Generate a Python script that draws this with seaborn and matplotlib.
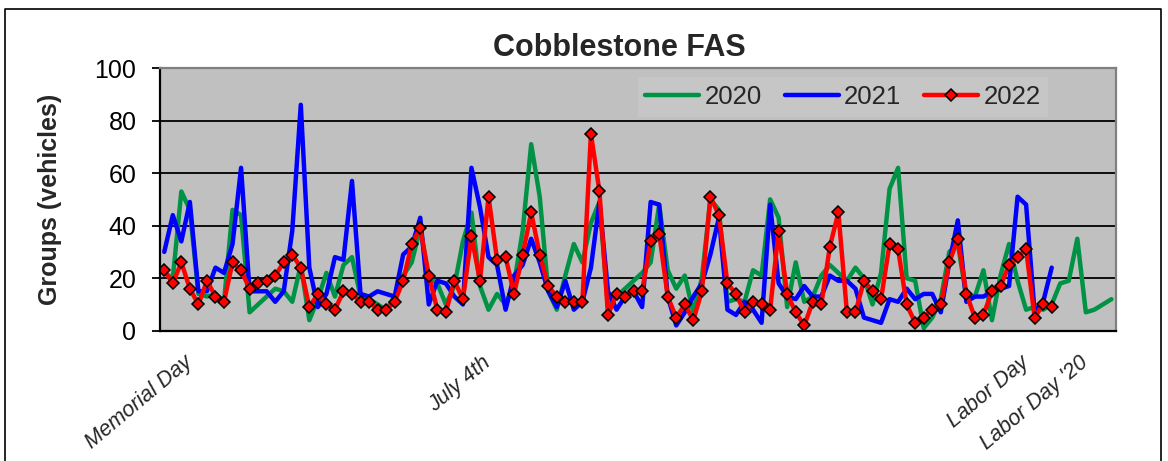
import pandas as pd
import matplotlib
matplotlib.use("Agg")
import matplotlib.pyplot as plt
import seaborn as sns
from matplotlib.lines import Line2D

# daily groups counted, aligned on day after Memorial Day of each year
y2020 = [22, 20, 53, 46, 14, 13, 14, 11, 46, 44, 7, 10, 13, 16, 15, 11, 25, 4, 12, 22,
         13, 25, 28, 13, 12, 10, 8, 13, 21, 26, 39, 20, 18, 10, 17, 34, 45, 17, 8, 14,
         10, 18, 38, 71, 51, 15, 8, 21, 33, 26, 41, 49, 9, 13, 16, 19, 22, 26, 48, 23,
         16, 21, 7, 20, 50, 46, 11, 12, 11, 23, 21, 50, 43, 9, 26, 11, 13, 21, 25, 22,
         19, 24, 20, 10, 22, 54, 62, 20, 19, 1, 5, 12, 30, 33, 13, 13, 23, 4, 21, 33,
         19, 8, 9, 8, 10, 18, 19, 35, 7, 8, 10, 12]
y2021 = [30, 44, 34, 49, 15, 15, 24, 22, 33, 62, 15, 15, 15, 11, 15, 38, 86, 24, 9, 14,
         28, 27, 57, 14, 13, 15, 14, 13, 29, 32, 43, 10, 19, 18, 13, 10, 62, 47, 28, 25,
         8, 21, 25, 35, 26, 15, 9, 19, 8, 11, 24, 49, 15, 8, 13, 15, 9, 49, 48, 13,
         2, 7, 13, 18, 29, 43, 8, 6, 11, 8, 3, 48, 18, 13, 12, 17, 13, 13, 21, 19,
         19, 16, 5, 4, 3, 12, 11, 16, 12, 14, 14, 7, 26, 42, 11, 13, 13, 15, 16, 17,
         51, 48, 7, 11, 24]
y2022 = [23, 18, 26, 16, 10, 19, 13, 11, 26, 23, 16, 18, 19, 21, 26, 29, 24, 9, 14, 10,
         8, 15, 14, 11, 11, 8, 8, 11, 19, 33, 39, 21, 8, 7, 19, 12, 36, 19, 51, 27,
         28, 14, 29, 45, 29, 17, 13, 11, 11, 11, 75, 53, 6, 14, 13, 15, 15, 34, 37, 13,
         5, 10, 4, 15, 51, 44, 18, 14, 7, 11, 10, 8, 38, 14, 7, 2, 11, 10, 32, 45,
         7, 7, 19, 15, 12, 33, 31, 10, 3, 5, 8, 10, 26, 35, 14, 5, 6, 15, 17, 25,
         28, 31, 5, 10, 9]

holiday_pos = [3, 38, 101, 108]
holiday_labels = ["Memorial Day", "July 4th", "Labor Day", "Labor Day '20"]

sns.set_style("white")
plt.rcParams["font.family"] = ["Liberation Sans", "DejaVu Sans"]

W, H = 1168, 461
fig = plt.figure(figsize=(W / 100, H / 100), dpi=100)
ax = fig.add_axes([160 / W, 1 - 330.7 / H, 955.7 / W, 262.7 / H])
ax.set_facecolor("#c0c0c0")

sns.lineplot(x=range(len(y2020)), y=y2020, color="#009245", lw=3.2, ax=ax, label="2020")
sns.lineplot(x=range(len(y2021)), y=y2021, color="#0000ff", lw=3.2, ax=ax, label="2021")
sns.lineplot(x=range(len(y2022)), y=y2022, color="#ff0000", lw=3.2, ax=ax, label="2022",
             marker="D", markersize=6, markerfacecolor="#ff0000",
             markeredgecolor="black", markeredgewidth=1.1)

ax.set_xlim(-0.5, len(y2020) - 0.5)
ax.set_ylim(0, 100)
ax.set_yticks(range(0, 101, 20))
ax.yaxis.grid(True, color="black", lw=1.3)
ax.set_axisbelow(True)

for side in ["left", "bottom"]:
    ax.spines[side].set_color("black")
    ax.spines[side].set_linewidth(1.6)
for side in ["top", "right"]:
    ax.spines[side].set_color("#808080")
    ax.spines[side].set_linewidth(1.6)

ax.tick_params(axis="y", left=True, length=6, width=1.3, pad=11, labelsize=18,
               direction="out", colors="black")
ax.set_xticks(holiday_pos)
ax.set_xticklabels(holiday_labels, rotation=40, ha="right", va="center",
                   rotation_mode="anchor", fontsize=15.5, fontstyle="italic")
ax.tick_params(axis="x", length=0, pad=21)

ax.set_xlabel("")
ax.set_ylabel("Groups (vehicles)", fontsize=18, fontweight="bold")
ax.yaxis.set_label_coords(-0.103, 0.5)

ax.text(0.481, 1 + 12.5 / 262.7, "Cobblestone FAS", transform=ax.transAxes,
        ha="center", va="baseline", fontsize=22, fontweight="bold")

leg = ax.legend(ncol=3, loc="center", bbox_to_anchor=((843 - 160) / 955.7, 0.89),
                fontsize=18.5, frameon=True, facecolor="#c6c6c6", edgecolor="none",
                framealpha=1, fancybox=False, handlelength=2.1, handletextpad=0.2,
                columnspacing=0.9, borderpad=0.3)

# chart area border
fig.add_artist(Line2D([5 / W, 5 / W, 1161 / W, 1161 / W], [0, 1 - 9 / H, 1 - 9 / H, 0],
                      color="black", lw=1.2, transform=fig.transFigure))

fig.savefig("out.png", dpi=100)
